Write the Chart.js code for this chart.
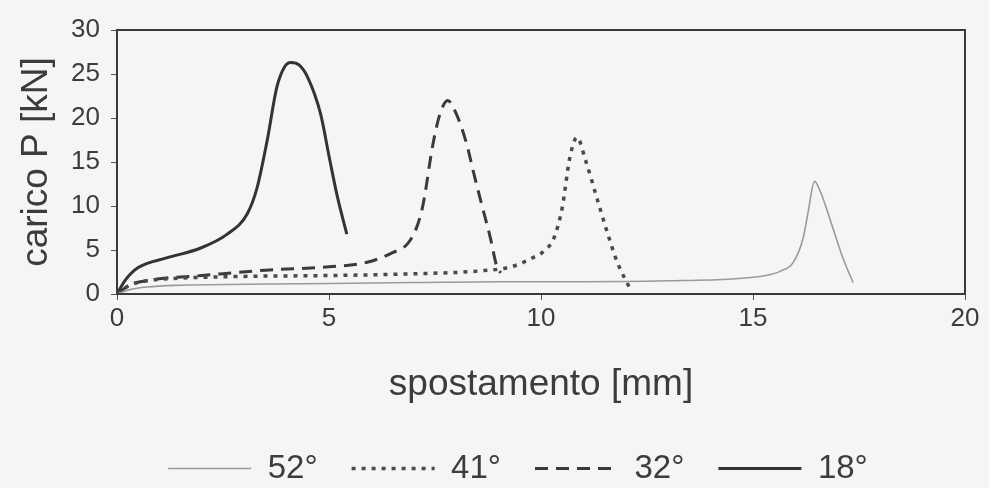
<!DOCTYPE html>
<html>
<head>
<meta charset="utf-8">
<script src="https://cdn.jsdelivr.net/npm/chart.js@4.4.0/dist/chart.umd.min.js"></script>
<style>
  html, body { margin: 0; padding: 0; background: #f5f5f3; }
  #wrap { width: 989px; height: 488px; }
</style>
</head>
<body>
<div id="wrap"><canvas id="loadChart" width="989" height="488"></canvas></div>
<script>
// ===========================
// DATA
// ===========================
const seriesLabels = ['52°', '41°', '32°', '18°'];

const x52 = [0, 0.3, 0.7, 1.5, 3, 5, 7, 9, 11, 13, 14.5, 15.3, 15.65, 15.95, 16.18, 16.3, 16.45, 16.6, 16.89, 17.12, 17.36];
const y52 = [0, 0.5, 0.8, 1.0, 1.1, 1.2, 1.3, 1.4, 1.4, 1.5, 1.7, 2.1, 2.6, 3.6, 6.3, 9.3, 12.8, 11.5, 7.4, 4.1, 1.3];

const x41 = [0, 0.3, 0.7, 1.5, 3, 5, 7, 8.5, 9.3, 9.8, 10.1, 10.3, 10.5, 10.68, 10.85, 11.05, 11.3, 11.55, 11.8, 12.1];
const y41 = [0, 1.0, 1.5, 1.8, 2.0, 2.1, 2.3, 2.6, 3.1, 4.1, 5.0, 6.3, 9.8, 15.5, 17.8, 15.2, 11.2, 7.2, 3.6, 0.6];

const x32 = [0, 0.3, 0.8, 2, 3.5, 5, 5.9, 6.5, 6.85, 7.07, 7.22, 7.45, 7.62, 7.8, 8.0, 8.25, 8.4, 8.6, 8.8, 8.96, 9.05];
const y32 = [0, 1.0, 1.6, 2.1, 2.7, 3.1, 3.6, 4.7, 5.7, 7.6, 10.2, 17, 20.5, 22, 20.5, 17, 14, 10.2, 6.5, 3.1, 2.4];

const x18 = [0, 0.2, 0.5, 1.17, 1.96, 2.6, 3.07, 3.3, 3.54, 3.77, 3.95, 4.1, 4.3, 4.5, 4.8, 5.02, 5.2, 5.42];
const y18 = [0, 1.6, 3.0, 4.1, 5.2, 6.8, 9.1, 12, 17.4, 23.5, 25.8, 26.3, 26, 24.6, 20.5, 15.2, 11, 6.8];

const xTicks = [0, 5, 10, 15, 20];
const yTicks = [0, 5, 10, 15, 20, 25, 30];

function toPoints(xs, ys) {
  return xs.map((x, i) => ({ x: x, y: ys[i] }));
}

// ===========================
// PLOT FRAME
// ===========================
const frameBox = {
  id: 'frameBox',
  afterDraw(chart) {
    const a = chart.chartArea;
    const ctx = chart.ctx;
    ctx.save();
    ctx.strokeStyle = '#3a3a3a';
    ctx.lineWidth = 2;
    ctx.strokeRect(a.left, a.top, a.right - a.left, a.bottom - a.top);
    ctx.restore();
  }
};

// legend keys: copy dash + width from the line itself
function lineLegendLabels(chart) {
  const items = Chart.defaults.plugins.legend.labels.generateLabels(chart);
  items.forEach(item => {
    const ds = chart.data.datasets[item.datasetIndex];
    item.lineDash = ds.borderDash || [];
    item.lineWidth = ds.borderWidth;
    item.strokeStyle = ds.borderColor;
  });
  return items;
}

const font = 'Liberation Sans, Arial, sans-serif';
const ink = '#3c3c3c';

// left padding shifts the legend centre to the right like in the scan,
// the y axis then hangs its labels/title out into that padding
const padLeft = 71;

new Chart(document.getElementById('loadChart'), {
  type: 'line',
  data: {
    datasets: [
      {
        label: seriesLabels[0],
        data: toPoints(x52, y52),
        borderColor: '#9a9a9a',
        borderWidth: 1.6,
        pointRadius: 0
      },
      {
        label: seriesLabels[1],
        data: toPoints(x41, y41),
        borderColor: '#4a4a4a',
        borderWidth: 3.5,
        borderDash: [4, 6],
        pointRadius: 0
      },
      {
        label: seriesLabels[2],
        data: toPoints(x32, y32),
        borderColor: '#3a3a3a',
        borderWidth: 3,
        borderDash: [13, 8],
        pointRadius: 0
      },
      {
        label: seriesLabels[3],
        data: toPoints(x18, y18),
        borderColor: '#333333',
        borderWidth: 3,
        pointRadius: 0
      }
    ]
  },
  options: {
    responsive: false,
    animation: false,
    cubicInterpolationMode: 'monotone',
    layout: { padding: { top: 30, right: 24, left: padLeft, bottom: -7 } },
    plugins: {
      tooltip: { enabled: false },
      legend: {
        display: true,
        position: 'bottom',
        labels: {
          usePointStyle: true,
          pointStyle: 'line',
          pointStyleWidth: 83,
          padding: 34,
          color: ink,
          font: { family: font, size: 33 },
          generateLabels: lineLegendLabels
        }
      }
    },
    scales: {
      x: {
        type: 'linear',
        min: 0,
        max: 20,
        afterBuildTicks: s => { s.ticks = xTicks.map(v => ({ value: v })); },
        afterFit: s => { s.height = 124; },
        grid: { drawOnChartArea: false, drawTicks: true, tickLength: 6, color: '#555' },
        border: { display: false },
        ticks: { padding: 3, color: ink, font: { family: font, size: 26 } },
        title: {
          display: true,
          text: 'spostamento [mm]',
          color: ink,
          font: { family: font, size: 37 },
          padding: { top: 4, bottom: 11 }
        }
      },
      y: {
        min: 0,
        max: 30,
        afterBuildTicks: s => { s.ticks = yTicks.map(v => ({ value: v })); },
        afterFit: s => { s.width = 117 - padLeft; },
        grid: { drawOnChartArea: false, drawTicks: true, tickLength: 6, color: '#555' },
        border: { display: false },
        ticks: { padding: 11, color: ink, font: { family: font, size: 26 } },
        title: {
          display: true,
          text: 'carico P [kN]',
          color: ink,
          font: { family: font, size: 37 },
          padding: { top: 37 - padLeft - 22, bottom: 0 }
        }
      }
    }
  },
  plugins: [frameBox]
});
</script>
</body>
</html>
